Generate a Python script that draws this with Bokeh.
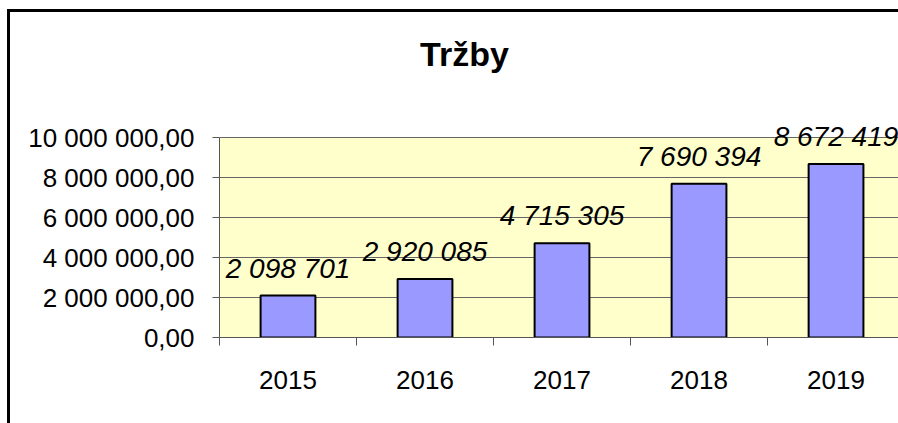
from bokeh.plotting import figure
from bokeh.models import (ColumnDataSource, Range1d, FixedTicker, LabelSet, Label,
                          BoxAnnotation)
from bokeh.core.properties import value
from bokeh.embed import file_html
from bokeh.resources import INLINE

# ---- data ----
years = ["2015", "2016", "2017", "2018", "2019"]
revenue = [2098701, 2920085, 4715305, 7690394, 8672419]
value_labels = ["2 098 701", "2 920 085", "4 715 305", "7 690 394", "8 672 419"]
y_tick_values = [0, 2000000, 4000000, 6000000, 8000000, 10000000]
y_tick_labels = ["0,00", "2 000 000,00", "4 000 000,00", "6 000 000,00",
                 "8 000 000,00", "10 000 000,00"]
title_text = "Tržby"

FONT = "Liberation Sans"

y_axis_max = y_tick_values[-1]
# frame spans from the canvas top down to the zero line; the axis maximum sits 200 px above zero
y_view_max = y_axis_max * 337 / 200

centers = [i + 0.5 for i in range(len(years))]
bounds = list(range(len(years) + 1))

src = ColumnDataSource(dict(x=centers, top=revenue, label=value_labels))

p = figure(width=898, height=423, output_backend="svg", toolbar_location=None,
           x_range=Range1d(0, 4.956), y_range=Range1d(0, y_view_max))
p.min_border = 0
p.min_border_left = 219
p.min_border_top = 0
p.min_border_bottom = 86
p.min_border_right = 0

p.background_fill_alpha = 0
p.border_fill_alpha = 0
p.outline_line_color = None

# outer chart-area border (only its left and top edges fall inside the window)
p.styles = {
    "background-color": "white",
    "background-image": "linear-gradient(#000,#000), linear-gradient(#000,#000)",
    "background-position": "7px 9px, 7px 9px",
    "background-size": "3px 2000px, 2000px 3px",
    "background-repeat": "no-repeat",
}

plot_area = BoxAnnotation(bottom=0, top=y_axis_max, fill_color="#FFFFCC",
                          fill_alpha=1, line_color=None, level="image")
p.add_layout(plot_area)

p.vbar(x="x", top="top", width=0.4, source=src, fill_color="#9999FF",
       line_color="black", line_width=2)

# y axis
ya = p.yaxis[0]
ya.ticker = FixedTicker(ticks=y_tick_values)
ya.bounds = (0, y_axis_max)
ya.major_label_overrides = {v: l for v, l in zip(y_tick_values, y_tick_labels)}
ya.major_label_text_font = FONT
ya.major_label_text_font_size = "26px"
ya.major_label_text_color = "black"
ya.major_tick_out = 7
ya.major_tick_in = 0
ya.minor_tick_out = 0
ya.minor_tick_in = 0
ya.major_label_standoff = 18
ya.axis_line_color = "#555555"
ya.major_tick_line_color = "#555555"

# x axis: labels at category centres, ticks at category boundaries
xa = p.xaxis[0]
xa.ticker = FixedTicker(ticks=centers, minor_ticks=bounds)
xa.major_label_overrides = {c: y for c, y in zip(centers, years)}
xa.major_label_text_font = FONT
xa.major_label_text_font_size = "26px"
xa.major_label_text_color = "black"
xa.major_tick_out = 0
xa.major_tick_in = 0
xa.minor_tick_out = 8
xa.minor_tick_in = 0
xa.major_label_standoff = 25
xa.axis_line_color = "#555555"
xa.minor_tick_line_color = "#555555"

p.xgrid.grid_line_color = None
p.ygrid.ticker = FixedTicker(ticks=y_tick_values)
p.ygrid.grid_line_color = "#666666"
p.ygrid.grid_line_width = 1

labels = LabelSet(x="x", y="top", text="label", source=src, y_offset=18,
                  text_align="center", text_baseline="alphabetic",
                  text_font=value(FONT), text_font_size="28px",
                  text_font_style="italic", text_color="black")
p.add_layout(labels)

title = Label(x=464, y=53, x_units="canvas", y_units="canvas", text=title_text,
              text_align="center", text_baseline="alphabetic", text_font=FONT,
              text_font_size="34px", text_font_style="bold", text_color="black")
p.add_layout(title)

open("out.html", "w").write(file_html(p, INLINE))
